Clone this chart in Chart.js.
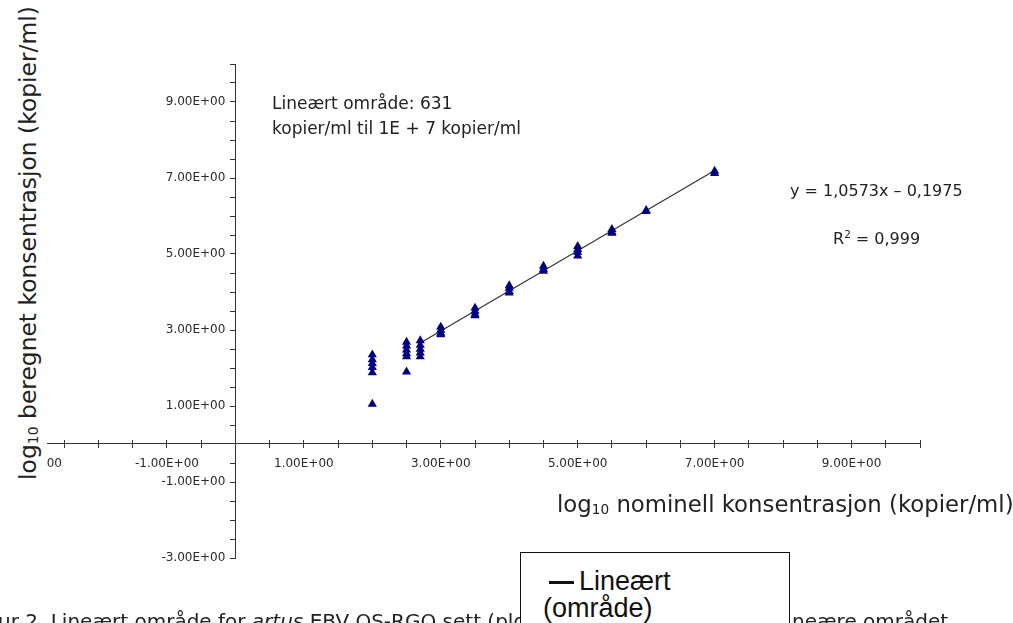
<!DOCTYPE html>
<html>
<head>
<meta charset="utf-8">
<script src="https://cdn.jsdelivr.net/npm/chart.js@4/dist/chart.umd.min.js"></script>
<style>
  html, body { margin: 0; padding: 0; background: #fff; }
  #wrap { position: relative; width: 1013px; height: 623px; overflow: hidden; }
  canvas { position: absolute; left: 0; top: 0; }
  .txt { position: absolute; font-family: "DejaVu Sans", sans-serif; color: #222; white-space: nowrap; }
  .txt sub { font-size: 0.6em; vertical-align: baseline; position: relative; top: 0.15em; }
  #ymask { position: absolute; left: 0; top: 0; width: 47px; height: 500px; background: #fff; }
  #ytitle { left: 28px; top: 243px; font-size: 23.4px; transform: translate(-50%, -50%) rotate(-90deg); }
  #xtitle { left: 557px; top: 491px; font-size: 22.8px; }
  #note { left: 272px; top: 91px; font-size: 17px; line-height: 25px; }
  #eq { left: 790px; top: 181px; font-size: 16px; }
  #r2 { left: 833px; top: 228px; font-size: 16px; }
  #r2 sup { font-size: 0.65em; }
  #legend { position: absolute; left: 520px; top: 552px; width: 268px; height: 90px; border: 1.5px solid #111; background: #fff; }
  #legend .item { position: absolute; font-family: "Liberation Sans Narrow", "Liberation Sans", sans-serif; font-size: 27px; color: #111; white-space: nowrap; }
  #legend .swatch { position: absolute; left: 28px; top: 28px; width: 25px; height: 3px; background: #111; }
  #cap1 { left: -2px; top: 609px; font-size: 20px; }
  #cap2 { left: 792px; top: 609px; font-size: 20px; }
</style>
</head>
<body>
<div id="wrap">
  <canvas id="myChart" width="1013" height="623"></canvas>
  <div class="txt" id="cap1">ur 2. Lineært område for <i>artus</i> EBV QS-RGQ sett (plottet</div>
  <div class="txt" id="cap2">neære området</div>
  <div id="ymask"></div>
  <div class="txt" id="ytitle">log<sub>10</sub> beregnet konsentrasjon (kopier/ml)</div>
  <div class="txt" id="xtitle">log<sub>10</sub> nominell konsentrasjon (kopier/ml)</div>
  <div class="txt" id="note">Lineært område: 631<br>kopier/ml til 1E + 7 kopier/ml</div>
  <div class="txt" id="eq">y = 1,0573x – 0,1975</div>
  <div class="txt" id="r2">R<sup>2</sup> = 0,999</div>
  <div id="legend">
    <div class="swatch"></div>
    <div class="item" style="left:58px; top:13px;">Lineært</div>
    <div class="item" style="left:22px; top:40px;">(område)</div>
  </div>
</div>
<script>
// nominelle konsentrasjoner (log10) og beregnede verdier per nivå
const xNominal = [2, 2.5, 2.7, 3, 3.5, 4, 4.5, 5, 5.5, 6, 7];
const yMeasured = [
  [2.35, 2.22, 2.12, 2.02, 1.88, 1.05],
  [2.68, 2.58, 2.48, 2.38, 2.30, 1.90],
  [2.72, 2.60, 2.50, 2.40, 2.30],
  [3.08, 3.00, 2.92, 2.88],
  [3.58, 3.50, 3.42, 3.38],
  [4.17, 4.10, 4.02, 3.98],
  [4.68, 4.60, 4.55],
  [5.20, 5.12, 5.05, 4.95],
  [5.65, 5.58, 5.55],
  [6.15, 6.12],
  [7.18, 7.12]
];
// lineær trendlinje (endepunkter)
const fitX = [2.7, 7];
const fitY = [2.66, 7.2];

// aksetikker
const xTickValues = [-3, -1, 1, 3, 5, 7, 9];
const xTickLabels = ['-3.00E+00', '-1.00E+00', '1.00E+00', '3.00E+00', '5.00E+00', '7.00E+00', '9.00E+00'];
const yTickValues = [-3, -1, 1, 3, 5, 7, 9];
const yTickLabels = ['-3.00E+00', '-1.00E+00', '1.00E+00', '3.00E+00', '5.00E+00', '7.00E+00', '9.00E+00'];

// y-etikettene skal stå litt til venstre for aksen (Chart.js legger dem helt inntil)
const shiftYLabels = {
    id: 'shiftYLabels',
    beforeDraw: function(chart){
        var items = chart.scales.y.getLabelItems(chart.chartArea)
        if (items._shifted) return
        items.forEach(function(it){ it.options.translation[0] -= 10 })
        items._shifted = true
    }
}

function noPadding(s){
    s.paddingLeft = 0; s.paddingRight = 0; s.paddingTop = 0; s.paddingBottom = 0
}

function drawChart(){
    var points = []
    for (i = 0; i < xNominal.length; i++){
        for (j = 0; j < yMeasured[i].length; j++){
            points.push({x: xNominal[i], y: yMeasured[i][j]})
        }
    }
    var fitLine = []
    for (i = 0; i < fitX.length; i++){
        fitLine.push({x: fitX[i], y: fitY[i]})
    }

    var tickFont = {family: 'DejaVu Sans', size: 12}
    var ctx = document.getElementById("myChart");
    var myChart = new Chart(ctx, {
      type: 'scatter',
      data: {
        datasets: [
          {
            data: points,
            pointStyle: 'triangle',
            pointRadius: 5.3,
            backgroundColor: '#000080',
            borderColor: '#000080',
            borderWidth: 0,
            order: 1
          },
          {
            data: fitLine,
            showLine: true,
            borderColor: '#333',
            borderWidth: 1.2,
            pointRadius: 0,
            order: 2
          }
        ]
      },
      options: {
        responsive: false,
        animation: false,
        events: [],
        layout: {padding: {left: 30, right: 93, top: 64, bottom: 65}},
        plugins: {legend: {display: false}, tooltip: {enabled: false}},
        scales: {
          x: {
            type: 'linear',
            position: {y: 0},
            min: -3, max: 10,
            afterFit: function(s){ s.height = 0; noPadding(s) },
            border: {color: '#333', width: 1},
            grid: {drawOnChartArea: false, drawTicks: true, tickLength: 4, color: '#333'},
            ticks: {
              stepSize: 0.5, autoSkip: false, maxRotation: 0, minRotation: 0,
              padding: 9, color: '#2a2a2a', font: tickFont,
              callback: function(v){ var k = xTickValues.indexOf(v); return k < 0 ? '' : xTickLabels[k] }
            }
          },
          // samme akse en gang til, bare for at merkene skal krysse aksen oppover
          x2: {
            type: 'linear',
            position: {y: 0},
            min: -3, max: 10,
            afterFit: function(s){ s.height = 0; noPadding(s) },
            border: {display: false},
            grid: {drawOnChartArea: false, drawTicks: true, tickLength: -4, color: '#333'},
            ticks: {stepSize: 0.5, autoSkip: false, maxRotation: 0, minRotation: 0, callback: function(){ return '' }}
          },
          y: {
            type: 'linear',
            position: {x: 0},
            min: -3, max: 10,
            afterFit: function(s){ s.width = 0; noPadding(s) },
            border: {color: '#333', width: 1},
            grid: {drawOnChartArea: false, drawTicks: true, tickLength: 5, color: '#333'},
            ticks: {
              stepSize: 0.5, autoSkip: false,
              padding: 7, color: '#2a2a2a', font: tickFont,
              callback: function(v){ var k = yTickValues.indexOf(v); return k < 0 ? '' : yTickLabels[k] }
            }
          }
        }
      },
      plugins: [shiftYLabels]
    });
}
drawChart();
</script>
</body>
</html>
